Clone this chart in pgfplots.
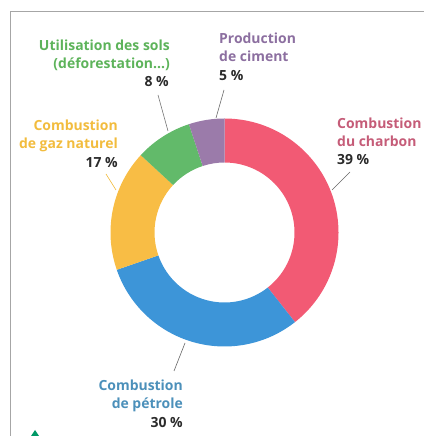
\documentclass[border=0pt]{standalone}
\usepackage{pgfplots}
\pgfplotsset{compat=1.18}
\usepackage{pgfplotstable}
\usepackage{fontspec}
\setmainfont{Open Sans}

\definecolor{cRed}{HTML}{F25A74}
\definecolor{cBlue}{HTML}{3D95D8}
\definecolor{cOrange}{HTML}{F8BD45}
\definecolor{cGreen}{HTML}{62BA6A}
\definecolor{cPurple}{HTML}{9B7BAA}
\definecolor{tRed}{HTML}{C55C78}
\definecolor{tBlue}{HTML}{4C90BA}
\definecolor{tOrange}{HTML}{F2BC3E}
\definecolor{tGreen}{HTML}{5DB35A}
\definecolor{tPurple}{HTML}{8C6FA0}
\definecolor{tDark}{HTML}{2B2B2B}

% shares of CO2 emissions, in %, clockwise from the top
\pgfplotstableread{
source value
charbon 39
petrole 30
gaz 17
sols 8
ciment 5
}\shares

% ring geometry (bp = axis units)
\def\cx{224.5}
\def\cy{203.5}
\def\Ro{114}
\def\Ri{70}

\newcommand\ringpart[3]{%
  \fill[#3] (axis cs:{\cx+\Ro*cos(#1)},{\cy+\Ro*sin(#1)})
    arc[start angle=#1, end angle=#2, radius=\Ro bp]
    -- (axis cs:{\cx+\Ri*cos(#2)},{\cy+\Ri*sin(#2)})
    arc[start angle=#2, end angle=#1, radius=\Ri bp] -- cycle;}

\tikzset{lab/.style={font=\fontsize{14}{16}\selectfont\bfseries, inner sep=0pt},
  lead/.style={line width=0.6pt}}

\begin{document}
\begin{tikzpicture}
\pgfplotstablegetelem{0}{value}\of\shares\let\vA\pgfplotsretval
\pgfplotstablegetelem{1}{value}\of\shares\let\vB\pgfplotsretval
\pgfplotstablegetelem{2}{value}\of\shares\let\vC\pgfplotsretval
\pgfplotstablegetelem{3}{value}\of\shares\let\vD\pgfplotsretval
\pgfplotstablegetelem{4}{value}\of\shares\let\vE\pgfplotsretval
\pgfmathsetmacro\tot{\vA+\vB+\vC+\vD+\vE}
\pgfmathsetmacro\aA{90}
\pgfmathsetmacro\aB{\aA-360*\vA/\tot}
\pgfmathsetmacro\aC{\aB-360*\vB/\tot}
\pgfmathsetmacro\aD{\aC-360*\vC/\tot}
\pgfmathsetmacro\aE{\aD-360*\vD/\tot}
\pgfmathsetmacro\aF{\aE-360*\vE/\tot}
\begin{axis}[x=1bp, y=1bp, xmin=0, xmax=424, ymin=0, ymax=436,
  hide axis, clip=false]
\coordinate (bbSW) at (axis cs:0,0);
\coordinate (bbNE) at (axis cs:424,436);
% frame of the scanned page
\draw[black!35, line width=0.6pt] (axis cs:10,0) -- (axis cs:10,425) -- (axis cs:424,425);
\fill[teal!80!green] (axis cs:31,0) -- (axis cs:39,0) -- (axis cs:35,6) -- cycle;

\ringpart{\aA}{\aB}{cRed}
\ringpart{\aB}{\aC}{cBlue}
\ringpart{\aC}{\aD}{cOrange}
\ringpart{\aD}{\aE}{cGreen}
\ringpart{\aE}{\aF}{cPurple}

% leader lines
\draw[lead, black!55] (axis cs:158,341) -- (axis cs:168,305);
\draw[lead, black!60] (axis cs:224,346) -- (axis cs:216,318);
\draw[lead, black!60] (axis cs:350,264) -- (axis cs:332,246);
\draw[lead, tOrange] (axis cs:106,262) -- (axis cs:116,246);
\draw[lead, black!60] (axis cs:185,93) -- (axis cs:174,65);

% labels
\node[lab, tGreen, anchor=base east] at (axis cs:170,385) {Utilisation des sols};
\node[lab, tGreen, anchor=base east] at (axis cs:170,367) {(déforestation...)};
\node[lab, tDark, anchor=base east] at (axis cs:169,349) {8~\%};

\node[lab, tPurple, anchor=base west] at (axis cs:219,392) {Production};
\node[lab, tPurple, anchor=base west] at (axis cs:219,374) {de ciment};
\node[lab, tDark, anchor=base west] at (axis cs:219,355) {5~\%};

\node[lab, tRed, anchor=base west] at (axis cs:337,307) {Combustion};
\node[lab, tRed, anchor=base west] at (axis cs:337,289) {du charbon};
\node[lab, tDark, anchor=base west] at (axis cs:337,271) {39~\%};

\node[lab, tOrange, anchor=base east] at (axis cs:118,305) {Combustion};
\node[lab, tOrange, anchor=base east] at (axis cs:118,287) {de gaz naturel};
\node[lab, tDark, anchor=base east] at (axis cs:118,268) {17~\%};

\node[lab, tBlue, anchor=base east] at (axis cs:183,45) {Combustion};
\node[lab, tBlue, anchor=base east] at (axis cs:183,27) {de pétrole};
\node[lab, tDark, anchor=base east] at (axis cs:183,8) {30~\%};
\end{axis}
\pgfresetboundingbox
\path (bbSW) rectangle (bbNE);
\end{tikzpicture}
\end{document}
